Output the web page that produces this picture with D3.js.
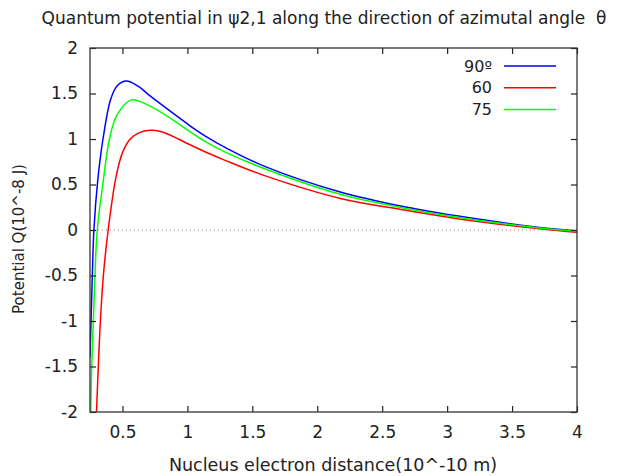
<!DOCTYPE html>
<html>
<head>
<meta charset="utf-8">
<script src="https://cdn.jsdelivr.net/npm/d3@7"></script>
<style>
  body { margin: 0; background: #fff; }
  text { font-family: "DejaVu Sans", sans-serif; fill: #222; }
</style>
</head>
<body>
<div id="chart"></div>
<script>
// x: nucleus electron distance (10^-10 m), y: potential Q (10^-8 J)
var r90 = [0.25, 0.258, 0.268, 0.28, 0.31, 0.35, 0.41, 0.46, 0.53, 0.62, 0.72, 0.93, 1.02, 1.135, 1.3, 1.6, 2.17, 2.67, 3.25, 3.73, 4.0];
var q90 = [-1.4, -1.0, -0.5, 0.0, 0.55, 1.0, 1.44, 1.585, 1.637, 1.58, 1.465, 1.24, 1.145, 1.035, 0.90, 0.696, 0.42, 0.256, 0.117, 0.025, -0.01];

var r60 = [0.29, 0.30, 0.314, 0.33, 0.353, 0.39, 0.45, 0.5, 0.56, 0.63, 0.71, 0.8, 0.93, 1.0, 1.135, 1.3, 1.6, 2.17, 2.67, 3.25, 3.73, 4.0];
var q60 = [-2.4, -2.0, -1.5, -1.0, -0.5, 0.0, 0.58, 0.85, 1.0, 1.07, 1.095, 1.08, 1.0, 0.95, 0.86, 0.76, 0.595, 0.35, 0.22, 0.09, 0.012, -0.025];

var r75 = [0.25, 0.255, 0.263, 0.276, 0.288, 0.306, 0.353, 0.40, 0.46, 0.57, 0.72, 0.93, 1.02, 1.135, 1.3, 1.6, 2.17, 2.67, 3.25, 3.73, 4.0];
var q75 = [-2.2, -2.0, -1.5, -1.0, -0.5, 0.0, 0.55, 1.0, 1.27, 1.43, 1.355, 1.17, 1.08, 0.975, 0.85, 0.67, 0.395, 0.24, 0.105, 0.02, -0.015];

var seriesNames = ["90º", "60", "75"];
var seriesColors = ["#0000ff", "#ff0000", "#00ff00"];

var xTicks = [0.5, 1, 1.5, 2, 2.5, 3, 3.5, 4];
var yTicks = [-2, -1.5, -1, -0.5, 0, 0.5, 1, 1.5, 2];

var W = 624, H = 476;
var margin = {top: 48, right: 47, bottom: 64, left: 90};
var width = W - margin.left - margin.right;
var height = H - margin.top - margin.bottom;

var svg = d3.select("#chart").append("svg")
    .attr("width", W)
    .attr("height", H);

var g = svg.append("g")
    .attr("transform", "translate(" + margin.left + "," + margin.top + ")");

var x = d3.scaleLinear().domain([0.25, 4]).range([0, width]);
var y = d3.scaleLinear().domain([-2, 2]).range([height, 0]);

svg.append("defs").append("clipPath").attr("id", "clip")
    .append("rect").attr("width", width).attr("height", height);

// zero line
g.append("line")
    .attr("x1", 0).attr("x2", width)
    .attr("y1", y(0)).attr("y2", y(0))
    .attr("stroke", "#888")
    .attr("stroke-width", 1)
    .attr("stroke-dasharray", "1,3");

var series = [
    {r: r90, q: q90},
    {r: r60, q: q60},
    {r: r75, q: q75}
];

var lineGen = d3.line()
    .x(function(d) { return x(d[0]); })
    .y(function(d) { return y(d[1]); })
    .curve(d3.curveCatmullRom.alpha(0.5));

series.forEach(function(s, i) {
    var pts = s.r.map(function(v, j) { return [v, s.q[j]]; });
    g.append("path")
        .datum(pts)
        .attr("clip-path", "url(#clip)")
        .attr("d", lineGen)
        .attr("fill", "none")
        .attr("stroke", seriesColors[i])
        .attr("stroke-width", 1.5);
});

var fmt = function(d) { return String(d); };

// axes, ticks inward, mirrored
g.append("g")
    .attr("transform", "translate(0," + height + ")")
    .call(d3.axisBottom(x).tickValues(xTicks).tickSize(-6).tickPadding(14).tickFormat(fmt))
    .call(function(a) { a.select(".domain").remove(); });
g.append("g")
    .call(d3.axisTop(x).tickValues(xTicks).tickSize(-6).tickFormat(""))
    .call(function(a) { a.select(".domain").remove(); });
g.append("g")
    .call(d3.axisLeft(y).tickValues(yTicks).tickSize(-6).tickPadding(12).tickFormat(fmt))
    .call(function(a) { a.select(".domain").remove(); });
g.append("g")
    .attr("transform", "translate(" + width + ",0)")
    .call(d3.axisRight(y).tickValues(yTicks).tickSize(-6).tickFormat(""))
    .call(function(a) { a.select(".domain").remove(); });

g.selectAll(".tick line").attr("stroke", "#222").attr("stroke-width", 1.2);
g.selectAll(".tick text").style("font-size", "17px").attr("fill", "#222");

g.append("rect")
    .attr("width", width).attr("height", height)
    .attr("fill", "none")
    .attr("stroke", "#333")
    .attr("stroke-width", 1.3);

// legend
var legend = g.append("g").attr("transform", "translate(" + (402) + ",18)");
seriesNames.forEach(function(name, i) {
    var row = legend.append("g").attr("transform", "translate(0," + (i * 21.7) + ")");
    row.append("text")
        .attr("x", 0).attr("y", 0)
        .attr("dy", "0.35em")
        .attr("text-anchor", "end")
        .style("font-size", "16px")
        .text(name);
    row.append("line")
        .attr("x1", 12).attr("x2", 64)
        .attr("stroke", seriesColors[i])
        .attr("stroke-width", 1.5);
});

// title and axis labels
svg.append("text")
    .attr("x", 324).attr("y", 24)
    .attr("text-anchor", "middle")
    .style("font-size", "17px")
    .style("white-space", "pre")
    .text("Quantum potential in ψ2,1 along the direction of azimutal angle  θ");

svg.append("text")
    .attr("x", 333).attr("y", 471)
    .attr("text-anchor", "middle")
    .style("font-size", "17.5px")
    .text("Nucleus electron distance(10^-10 m)");

svg.append("text")
    .attr("transform", "translate(24," + (margin.top + height / 2 + 9) + ") rotate(-90)")
    .attr("text-anchor", "middle")
    .style("font-size", "15px")
    .text("Potential Q(10^-8 J)");
</script>
</body>
</html>
